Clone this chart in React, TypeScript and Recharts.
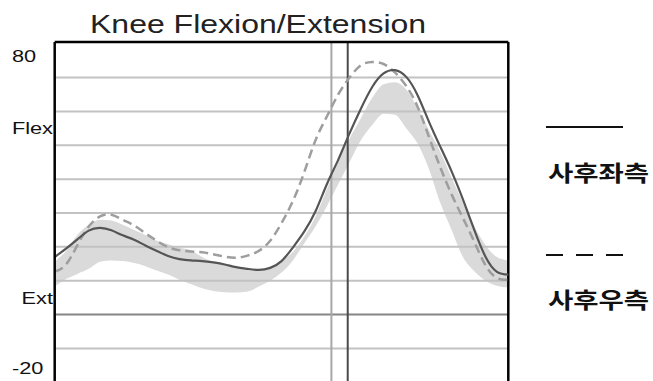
import React from 'react';
import { ComposedChart, Line, Area, XAxis, YAxis, ReferenceLine } from 'recharts';

const chartTitle = 'Knee Flexion/Extension';
const seriesNames = ['사후좌측', '사후우측'];

// percent of gait cycle
const gaitPct = [0, 2.5, 5, 7.5, 10, 12.5, 15, 17.5, 20, 22.5, 25, 27.5, 30, 32.5, 35, 37.5, 40, 42.5, 45, 47.5, 50, 52.5, 55, 57.5, 60, 62.5, 65, 67.5, 70, 72.5, 75, 77.5, 80, 82.5, 85, 87.5, 90, 92.5, 95, 97.5, 100];
// solid line (사후좌측)
const leftKnee = [17, 19.5, 22.2, 24.8, 25.6, 24.9, 23.4, 22.1, 20.4, 18.8, 17.3, 16.4, 16, 15.8, 15.4, 14.8, 14, 13.5, 13.2, 13.8, 15.8, 19.8, 24.5, 30.5, 38.5, 45.7, 53.5, 60.8, 67.2, 71.2, 72.2, 70.2, 64.8, 57, 49.6, 42.3, 34, 25, 17, 12.6, 11.8];
// dashed line (사후우측)
const rightKnee = [12.7, 14.8, 20.5, 26, 29, 29.5, 28, 26.3, 24, 21.8, 19.9, 19, 18.6, 18.4, 17.8, 17.1, 16.8, 17.4, 18.8, 21.8, 27, 33.5, 42, 51.5, 58.5, 65, 70, 73.6, 74.6, 74, 71.5, 67.5, 61.4, 52.5, 43.5, 35.5, 28.5, 21.5, 14.5, 10.8, 10.3];
// normal range band
const normLow = [8.3, 10.5, 12, 13.5, 15.6, 16, 15.8, 15.2, 14.3, 13, 11.8, 10.3, 9, 7.8, 7, 6.6, 6.5, 6.8, 8.3, 10, 12.4, 16, 21, 26, 32, 38.5, 45, 51.5, 56, 59.3, 59, 55, 50.5, 43, 33, 25, 17, 12.8, 10, 8.5, 8];
const normHigh = [15.6, 18.8, 23.5, 26.5, 28, 27.8, 26.5, 25, 23.5, 21.8, 20.8, 19.8, 19, 17, 15.5, 14.8, 14, 13.5, 13.3, 14, 16, 18.5, 23, 29, 37, 45, 52, 58, 64, 68, 68.6, 66.5, 61, 54.5, 48, 40.5, 33, 26, 20.5, 17, 16];

const gridValues = [70, 60, 50, 40, 30, 20, 10, -10];
const zeroValue = 0;
const eventLines = [61, 64.6];
const yDomain = [-20, 80.5];
const yTicks = [80, 55, 5, -20];
const yTickLabels = ['80', 'Flex', 'Ext', '-20'];

const data = gaitPct.map((p, i) => ({
  pct: p,
  left: leftKnee[i],
  right: rightKnee[i],
  norm: [normLow[i], normHigh[i]],
}));

const STRETCH = 1.28;
const FONT = '"Liberation Sans", Arial, sans-serif';
const KFONT = '"Noto Sans CJK KR", sans-serif';

const YTick = (props: any) => {
  const { y, payload, index } = props;
  const label = yTickLabels[index] ?? String(payload.value);
  const isNum = /\d/.test(label);
  let dy = 6;
  if (index === 0) dy = 18;
  if (index === yTicks.length - 1) dy = -8;
  const ax = isNum ? 12 : 53;
  return (
    <text
      transform={`translate(${ax},${y + dy}) scale(${STRETCH},1)`}
      x={0}
      y={0}
      textAnchor={isNum ? 'start' : 'end'}
      fontFamily={FONT}
      fontSize={17}
      fill="#111"
    >
      {label}
    </text>
  );
};

export default function App() {
  return (
    <div style={{ position: 'absolute', left: 0, top: 0, width: 653, height: 381, overflow: 'hidden', background: '#fff' }}>
      <ComposedChart
        width={653}
        height={392}
        data={data}
        margin={{ top: 42, right: 144.7, bottom: 9.7, left: 0 }}
      >
        <XAxis dataKey="pct" type="number" domain={[0, 100]} hide />
        <YAxis
          type="number"
          domain={yDomain}
          ticks={yTicks}
          tick={<YTick />}
          tickLine={false}
          axisLine={{ stroke: '#000', strokeWidth: 2.5 }}
          width={54.7}
          allowDataOverflow
          interval={0}
        />
        <Area
          dataKey="norm"
          type="monotone"
          fill="#dadada"
          fillOpacity={1}
          stroke="none"
          isAnimationActive={false}
          dot={false}
          activeDot={false}
        />
        {gridValues.map((v) => (
          <ReferenceLine key={'g' + v} y={v} stroke="#c2c2c2" strokeWidth={2} />
        ))}
        <ReferenceLine y={zeroValue} stroke="#858585" strokeWidth={2} />
        <ReferenceLine x={eventLines[0]} stroke="#a8a8a8" strokeWidth={2} />
        <ReferenceLine x={eventLines[1]} stroke="#4a4a4a" strokeWidth={2} />
        <ReferenceLine y={yDomain[1]} stroke="#000" strokeWidth={2.5} />
        <ReferenceLine x={100} stroke="#000" strokeWidth={2.5} />
        <Line
          dataKey="right"
          name={seriesNames[1]}
          type="natural"
          stroke="#9e9e9e"
          strokeWidth={2.5}
          strokeDasharray="9 5"
          dot={false}
          activeDot={false}
          isAnimationActive={false}
        />
        <Line
          dataKey="left"
          name={seriesNames[0]}
          type="natural"
          stroke="#555"
          strokeWidth={2.2}
          dot={false}
          activeDot={false}
          isAnimationActive={false}
        />
      </ComposedChart>
      <svg width={653} height={381} style={{ position: 'absolute', left: 0, top: 0, pointerEvents: 'none' }}>
        <text
          transform={`translate(90,33) scale(${STRETCH},1)`}
          fontFamily={FONT}
          fontSize={25}
          fill="#222"
        >
          {chartTitle}
        </text>
        <line x1={546} x2={623} y1={127} y2={127} stroke="#111" strokeWidth={2} />
        <text
          transform="translate(548,181) scale(1.25,1)"
          fontFamily={KFONT}
          fontWeight={700}
          fontSize={22}
          fill="#111"
        >
          {seriesNames[0]}
        </text>
        <line x1={546} x2={623} y1={255} y2={255} stroke="#111" strokeWidth={2} strokeDasharray="17 13" />
        <text
          transform="translate(548,308) scale(1.25,1)"
          fontFamily={KFONT}
          fontWeight={700}
          fontSize={22}
          fill="#111"
        >
          {seriesNames[1]}
        </text>
      </svg>
    </div>
  );
}
